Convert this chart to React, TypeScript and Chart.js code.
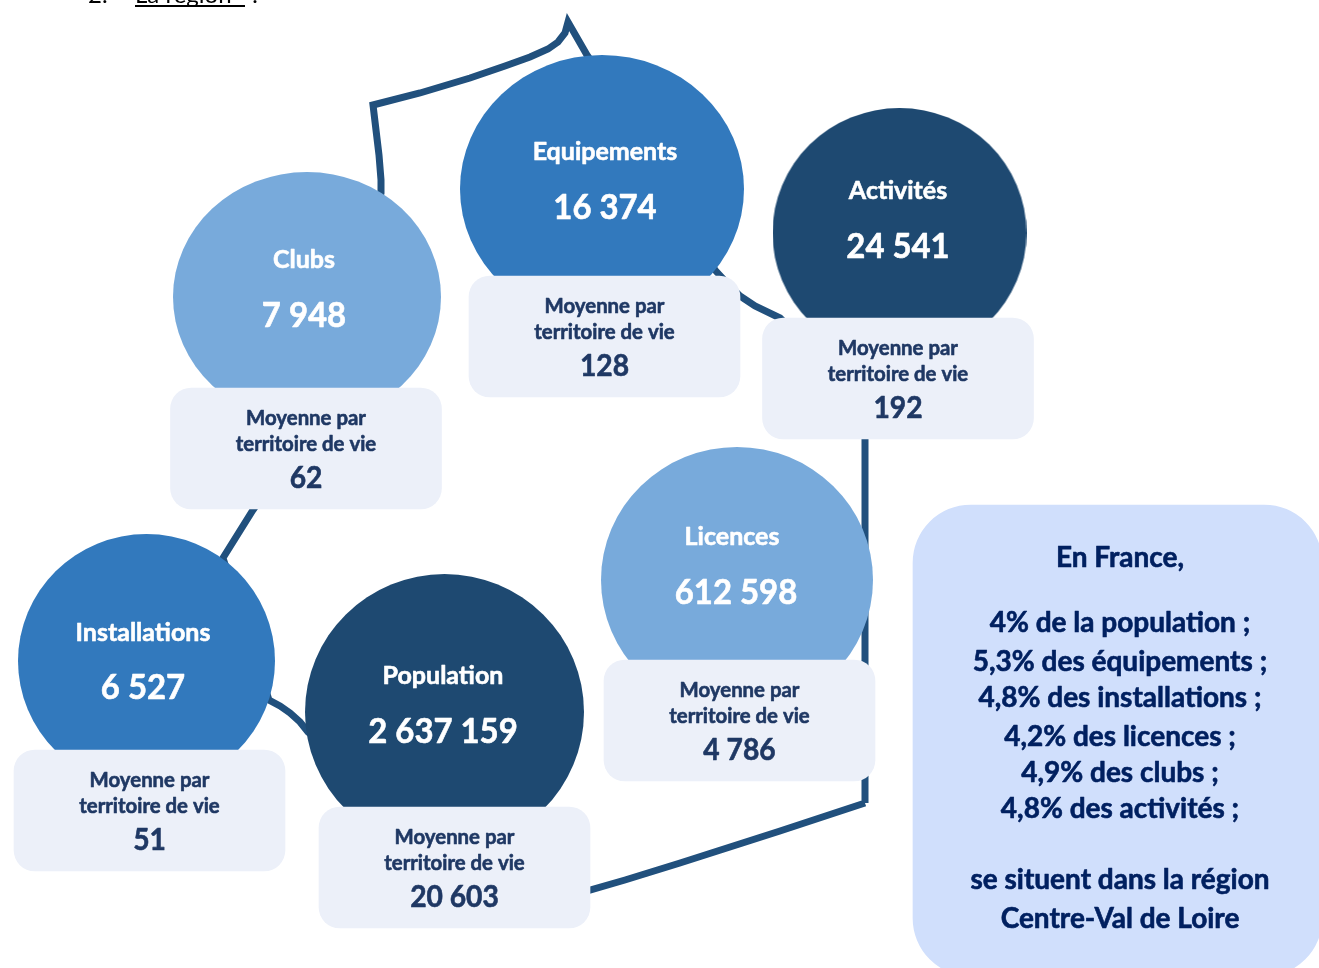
import React, { useEffect, useRef } from "react";
import { Chart, registerables } from "chart.js";

Chart.register(...registerables);

const WIDTH = 1319;
const HEIGHT = 968;

// Values
const categories = ["Clubs", "Equipements", "Activités", "Installations", "Population", "Licences"];
const totals = [7948, 16374, 24541, 6527, 2637159, 612598];
const averages = [62, 128, 192, 51, 20603, 4786];
const averageLabel = ["Moyenne par", "territoire de vie"];
const panelTitle = "En France,";
const panelShares = [
  "4% de la population ;",
  "5,3% des équipements ;",
  "4,8% des installations ;",
  "4,2% des licences ;",
  "4,9% des clubs ;",
  "4,8% des activités ;",
];
const panelFooter = ["se situent dans la région", "Centre-Val de Loire"];

// Diagram layout, in axis units
const bubbleX = [307, 602, 899.5, 146.5, 444.5, 737];
const bubbleY = [297, 189, 233, 661, 712, 580];
const bubbleRx = [134, 142, 127, 128.5, 139.5, 136];
const bubbleRy = [125, 134, 125, 127, 138, 133];
const bubbleColors = ["#78AADB", "#3279BD", "#1E4971", "#3279BD", "#1E4971", "#78AADB"];
const labelX = [304, 605, 898, 143, 443, 732];
const labelY = [260, 152, 191, 633, 676, 537];
const valueX = [304, 605, 898, 143, 443, 736];
const valueY = [316, 208, 247, 688, 732, 593];
const cardX = [306, 604.5, 898, 149.5, 454.5, 739.5];
const cardTop = [388, 276, 318, 750, 807, 660];
const cardBottom = [509, 397, 439, 871, 928, 781];
const panelX = [1117.5];
const panelRange = [[505, 976]];
const panelLineY = [623, 662, 698, 737, 773, 809];
const panelFooterY = [880, 919];
const outlineX = [865, 865, 822, 780, 755, 740, 727, 715, 660, 587, 568, 565, 558, 548, 530, 505, 470, 420, 373, 376, 379, 381, 381, 330, 253, 223, 269, 280, 290, 300, 308, 450, 590, 625, 680, 730, 780, 865];
const outlineY = [803, 438, 360, 318, 306, 296, 283, 270, 160, 55, 22, 33, 42, 49, 57, 66, 78, 93, 105, 130, 155, 180, 193, 400, 510, 558, 700, 706, 713, 722, 732, 850, 890, 880, 863, 847, 831, 803];

const FONT = "Lato, Carlito, sans-serif";

const spaced = (n: number) => String(n).replace(/\B(?=(\d{3})+(?!\d))/g, " ");

function ellipseImage(rx: number, ry: number, color: string) {
  const c = document.createElement("canvas");
  c.width = Math.round(rx * 2);
  c.height = Math.round(ry * 2);
  const g = c.getContext("2d")!;
  g.fillStyle = color;
  g.beginPath();
  g.ellipse(c.width / 2, c.height / 2, rx, ry, 0, 0, Math.PI * 2);
  g.fill();
  return c;
}

const textPlugin = {
  id: "infographicText",
  afterDatasetsDraw(chart: any) {
    const { ctx, scales } = chart;
    const X = (v: number) => scales.x.getPixelForValue(v);
    const Y = (v: number) => scales.y.getPixelForValue(v);
    const put = (t: string, x: number, y: number, size: number, color: string, squeeze: number) => {
      ctx.font = `bold ${size}px ${FONT}`;
      ctx.fillStyle = color;
      ctx.strokeStyle = color;
      ctx.lineWidth = 0.6;
      ctx.lineJoin = "round";
      ctx.textAlign = "center";
      ctx.textBaseline = "middle";
      const w = ctx.measureText(t).width * squeeze;
      ctx.fillText(t, X(x), Y(y), w);
      ctx.strokeText(t, X(x), Y(y), w);
    };
    ctx.save();
    categories.forEach((name, i) => {
      put(name, labelX[i], labelY[i], 25, "#FFFFFF", 1);
      put(spaced(totals[i]), valueX[i], valueY[i], 35, "#FFFFFF", 0.94);
      const top = cardTop[i];
      put(averageLabel[0], cardX[i], top + 30, 21, "#1F3864", 0.97);
      put(averageLabel[1], cardX[i], top + 56, 21, "#1F3864", 0.97);
      put(spaced(averages[i]), cardX[i], top + 90, 30, "#1F3864", 0.94);
    });
    put(panelTitle, 1120, 558, 28, "#002060", 1);
    panelShares.forEach((t, i) => put(t, 1120, panelLineY[i], 28, "#002060", 1));
    panelFooter.forEach((t, i) => put(t, 1120, panelFooterY[i], 28, "#002060", 1));

    // Heading cut off by the top of the page
    ctx.font = `24px ${FONT}`;
    ctx.fillStyle = "#000000";
    ctx.textAlign = "left";
    ctx.textBaseline = "alphabetic";
    ctx.fillText("2.", 88, 3);
    ctx.fillText("La région", 135, 3, 110);
    ctx.fillText(":", 252, 3);
    ctx.fillRect(135, 5, 110, 2);
    ctx.restore();
  },
};

export default function App() {
  const ref = useRef<HTMLCanvasElement>(null);
  useEffect(() => {
    const images = categories.map((_, i) => ellipseImage(bubbleRx[i], bubbleRy[i], bubbleColors[i]));
    const chart = new Chart(ref.current!, {
      type: "bar",
      data: {
        datasets: [
          {
            type: "line",
            label: "Contour",
            data: outlineX.map((x, i) => ({ x, y: outlineY[i] })),
            borderColor: "#21507D",
            borderWidth: 7,
            borderJoinStyle: "miter",
            pointRadius: 0,
            fill: false,
            tension: 0,
            order: 3,
          },
          {
            type: "scatter",
            label: "Totaux",
            data: categories.map((_, i) => ({ x: bubbleX[i], y: bubbleY[i] })),
            pointStyle: images,
            pointRadius: 1,
            order: 2,
          },
          {
            type: "bar",
            label: "Moyenne par territoire de vie",
            data: categories.map((_, i) => ({ x: cardX[i], y: [cardTop[i], cardBottom[i]] })),
            backgroundColor: "#ECF0F9",
            barThickness: 271,
            borderRadius: 21,
            borderSkipped: false,
            grouped: false,
            order: 1,
          },
          {
            type: "bar",
            label: "En France",
            data: panelX.map((x, i) => ({ x, y: panelRange[i] })),
            backgroundColor: "#D0DFFC",
            barThickness: 409,
            borderRadius: 58,
            borderSkipped: false,
            grouped: false,
            order: 1,
          },
        ],
      } as any,
      options: {
        animation: false,
        responsive: false,
        maintainAspectRatio: false,
        layout: { padding: 0, autoPadding: false },
        events: [],
        plugins: { legend: { display: false }, tooltip: { enabled: false } },
        scales: {
          x: { type: "linear", min: 0, max: WIDTH, display: false, offset: false },
          y: { type: "linear", min: 0, max: HEIGHT, reverse: true, display: false, offset: false },
        },
      } as any,
      plugins: [textPlugin],
    });
    return () => chart.destroy();
  }, []);
  return (
    <canvas
      ref={ref}
      width={WIDTH}
      height={HEIGHT}
      style={{ position: "absolute", left: 0, top: 0, display: "block", width: WIDTH, height: HEIGHT }}
    />
  );
}
